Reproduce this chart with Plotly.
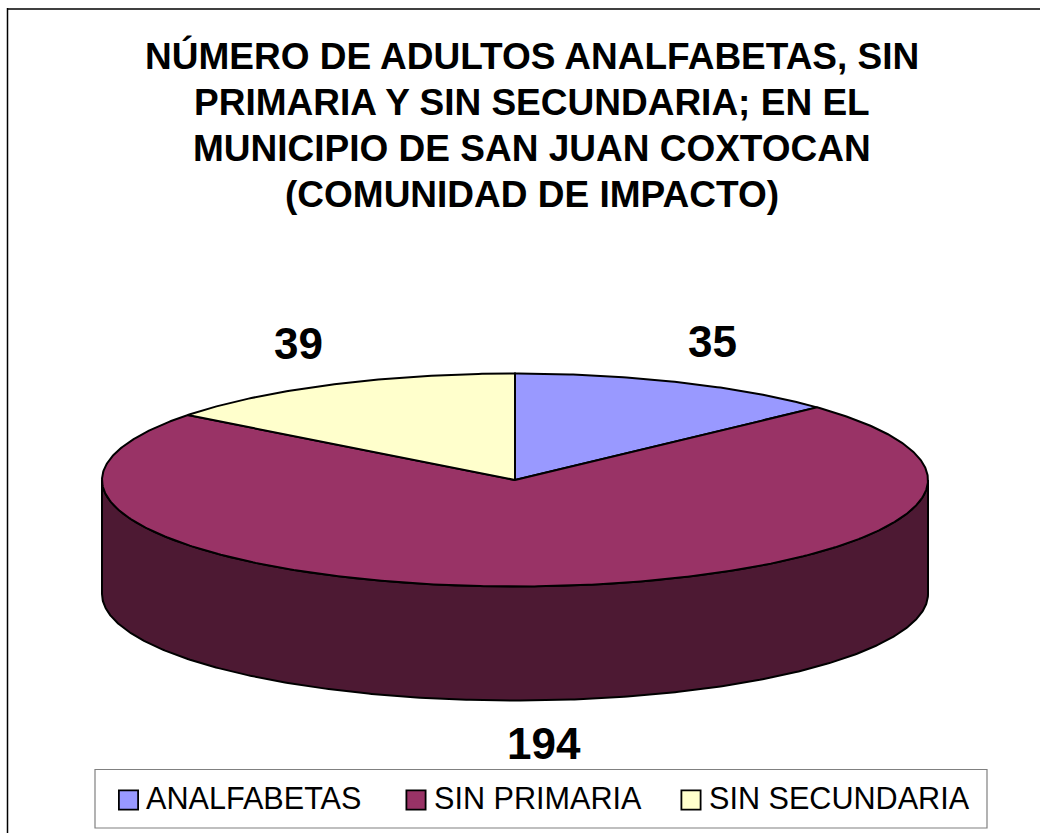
import numpy as np
import plotly.graph_objects as go

categories = ["ANALFABETAS", "SIN PRIMARIA", "SIN SECUNDARIA"]
values = [35, 194, 39]
slice_colors = ["#9999FF", "#993366", "#FFFFCC"]
side_color = "#4D1933"
title_lines = [
    "NÚMERO DE ADULTOS ANALFABETAS, SIN",
    "PRIMARIA Y SIN SECUNDARIA; EN EL",
    "MUNICIPIO DE SAN JUAN COXTOCAN",
    "(COMUNIDAD DE IMPACTO)",
]

# Axes run in page pixels; the page's body margin is removed by post_script
W, H = 1040, 833
CX, CY, RX, RY, DEPTH = 515, 480, 413, 106.5, 114
FONT = "Liberation Sans, Arial, sans-serif"
LINE = dict(color="black", width=2)

def arc(a0, a1):
    t = np.radians(np.linspace(a0, a1, max(int(abs(a1 - a0) * 2), 2)))
    return CX + RX * np.sin(t), CY - RY * np.cos(t)

fig = go.Figure()

# Side wall of the disc
bx, by = arc(90, 270)
sx = np.concatenate([bx, bx[::-1], bx[:1]])
sy = np.concatenate([by, by[::-1] + DEPTH, by[:1]])
fig.add_trace(go.Scatter(x=sx, y=sy, mode="lines", fill="toself",
                         fillcolor=side_color, line=LINE, showlegend=False, hoverinfo="skip"))

# Top of the disc, one sector per category, from the values
total = sum(values)
start = 0.0
for name, v, c in zip(categories, values, slice_colors):
    end = start + 360.0 * v / total
    ax, ay = arc(start, end)
    fig.add_trace(go.Scatter(x=np.concatenate([[CX], ax, [CX]]), y=np.concatenate([[CY], ay, [CY]]),
                             mode="lines", fill="toself", fillcolor=c, line=LINE,
                             name=name, showlegend=False, hoverinfo="skip"))
    start = end

# Legend: one legend per item so each can be placed on its own. Plotly caps legend
# markers at 16 px, so a larger outlined swatch sits underneath each entry.
legend_x = [106, 394, 669]
swatch_x = [128.5, 416, 691]
SWATCH_Y = 800
LEGEND_TOP = 771
legend_layout = {}
for i, (name, c, lx, swx) in enumerate(zip(categories, slice_colors, legend_x, swatch_x)):
    key = "legend" if i == 0 else f"legend{i + 1}"
    fig.add_trace(go.Scatter(x=[swx], y=[SWATCH_Y], mode="markers", showlegend=False, hoverinfo="skip",
                             marker=dict(symbol="square", size=19.2, color=c,
                                         line=dict(color="black", width=1.8))))
    fig.add_trace(go.Scatter(x=[None], y=[None], mode="markers", name=name, legend=key,
                             marker=dict(symbol="square", size=8, color=c, line=dict(width=0))))
    legend_layout[key] = dict(x=lx / W, y=1 - LEGEND_TOP / H, xanchor="left", yanchor="top",
                              bgcolor="rgba(0,0,0,0)", font=dict(family=FONT, size=30.6, color="black"))

annotations = []
for line, yc in zip(title_lines, [56, 102, 148, 194]):
    annotations.append(dict(x=532, y=yc, xref="x", yref="y", text=f"<b>{line}</b>", showarrow=False,
                            xanchor="center", yanchor="middle",
                            font=dict(family=FONT, size=37, color="black")))
for v, (lxp, lyp) in zip(values, [(712, 341), (544, 743), (298, 343)]):
    annotations.append(dict(x=lxp, y=lyp, xref="x", yref="y", text=f"<b>{v}</b>", showarrow=False,
                            xanchor="center", yanchor="middle",
                            font=dict(family=FONT, size=44, color="black")))

shapes = [
    dict(type="rect", xref="x", yref="y", x0=95, x1=987, y0=769.5, y1=828,
         line=dict(color="#808080", width=1.2), fillcolor="white", layer="below"),
    dict(type="line", xref="x", yref="y", x0=7.5, x1=1040, y0=9, y1=9, line=dict(color="black", width=1.5)),
    dict(type="line", xref="x", yref="y", x0=7.5, x1=7.5, y0=8, y1=833, line=dict(color="black", width=1.5)),
]

fig.update_layout(
    width=W, height=H, margin=dict(l=0, r=0, t=0, b=0, autoexpand=False),
    paper_bgcolor="white", plot_bgcolor="white",
    xaxis=dict(range=[0, W], visible=False, fixedrange=True),
    yaxis=dict(range=[H, 0], visible=False, fixedrange=True),
    annotations=annotations, shapes=shapes, hovermode=False,
    **legend_layout,
)
fig.write_html("out.html", config={"displayModeBar": False},
               post_script="document.body.style.margin='0';")
